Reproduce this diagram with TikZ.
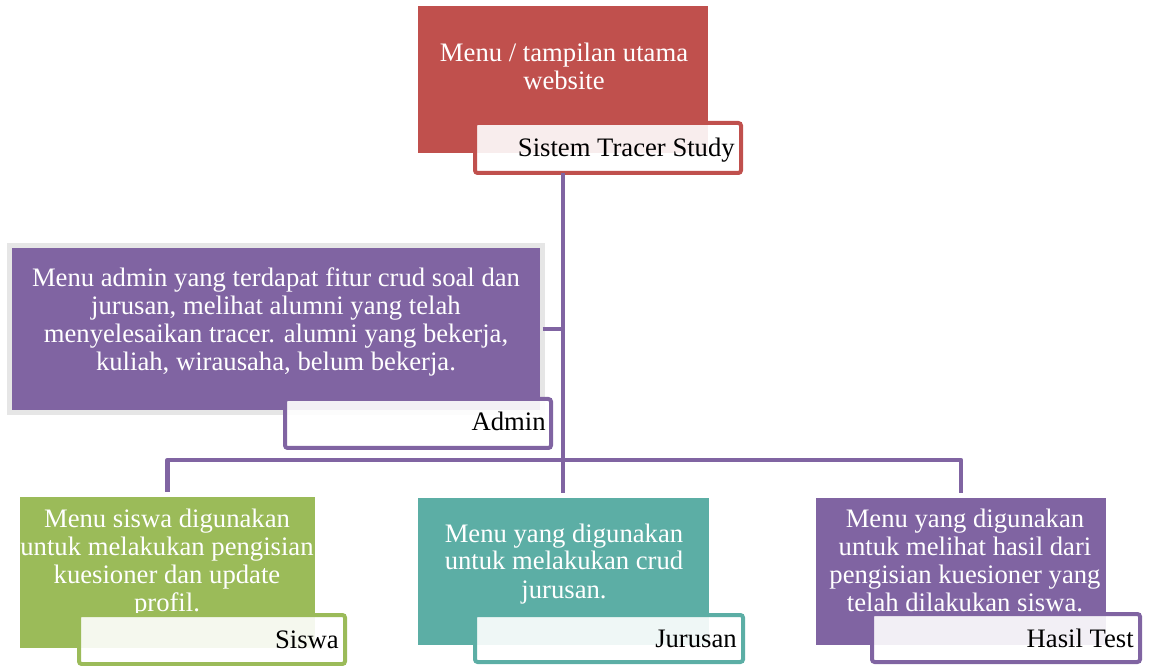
\documentclass[tikz,border=0pt]{standalone}
\usepackage{fontspec}
\setmainfont{Liberation Serif}
\usetikzlibrary{fit}
\definecolor{cred}{HTML}{C0504D}
\definecolor{cpurple}{HTML}{8064A2}
\definecolor{cgreen}{HTML}{9BBB59}
\definecolor{cteal}{HTML}{5CAEA5}
\definecolor{cgrey}{HTML}{E6E6E6}
\begin{document}
\begin{tikzpicture}[x=0.75pt,y=-0.75pt,
  box/.style={inner sep=0pt, outer sep=0pt, draw=none},
  body/.style={text=white, font=\fontsize{20}{21}\selectfont, align=center, inner sep=0pt, anchor=base},
  lab/.style={fill=white, fill opacity=0.9, line width=3pt, rounded corners=2pt, inner sep=0pt, outer sep=0pt},
  labtext/.style={text=black, font=\fontsize{20}{21}\selectfont, inner sep=0pt, anchor=base east},
  conn/.style={draw=cpurple, line width=3.4pt, line join=round}]
\useasboundingbox (0,0) rectangle (1150,666);

% coloured boxes
\node[box, fill=cred, fit={(418,6) (708,153)}] (root) {};
\node[box, fill=cpurple, draw=cgrey, line width=3.75pt, fit={(9.5,245.5) (542.5,412.5)}] (admin) {};
\node[box, fill=cgreen, fit={(20,497) (315,648)}] (siswa) {};
\node[box, fill=cteal, fit={(418,498) (709,645)}] (jurusan) {};
\node[box, fill=cpurple, fit={(816,498) (1106,645)}] (hasil) {};

% body texts (anchor = baseline of the last line)
\node[body] (roottxt) at (564,90) {Menu / tampilan utama\\website};
\node[body] (admintxt) at (276,371) {Menu admin yang terdapat fitur crud soal dan\\jurusan, melihat alumni yang telah\\menyelesaikan tracer. alumni yang bekerja,\\kuliah, wirausaha, belum bekerja.};
\node[body] (siswatxt) at (167,611) {Menu siswa digunakan\\untuk melakukan pengisian\\kuesioner dan update\\profil.};
\node[body] (jurusantxt) at (564,598) {Menu yang digunakan\\untuk melakukan crud\\jurusan.};
\node[body] (hasiltxt) at (965,611) {Menu yang digunakan\\untuk melihat hasil dari\\pengisian kuesioner yang\\telah dilakukan siswa.};

% label boxes
\node[lab, draw=cred, fit={(475,123) (741,173)}] (rootlab) {};
\node[lab, draw=cpurple, fit={(285,399) (551,448)}] (adminlab) {};
\node[lab, draw=cgreen, fit={(79,615) (345,664)}] (siswalab) {};
\node[lab, draw=cteal, fit={(475,615) (743,662)}] (jurusanlab) {};
\node[lab, draw=cpurple, fit={(872,614) (1140,662)}] (hasillab) {};

% label texts
\node[labtext] (roottag) at (735,157) {Sistem Tracer Study};
\node[labtext] (admintag) at (546,431) {Admin};
\node[labtext] (siswatag) at (339,648) {Siswa};
\node[labtext] (jurusantag) at (737,647) {Jurusan};
\node[labtext] (hasiltag) at (1134,647) {Hasil Test};

% connectors
\coordinate (hub) at (563,460);
\draw[conn] (rootlab.south -| hub) -- (hub);
\draw[conn] (admin.east) -- (admin.east -| hub);
\draw[conn, shorten >=3.75pt] (hub) -| (siswa.north);
\draw[conn, shorten >=3.75pt] (hub) -- (hub |- jurusan.north);
\draw[conn, shorten >=3.75pt] (hub) -| (hasil.north);
\end{tikzpicture}
\end{document}
